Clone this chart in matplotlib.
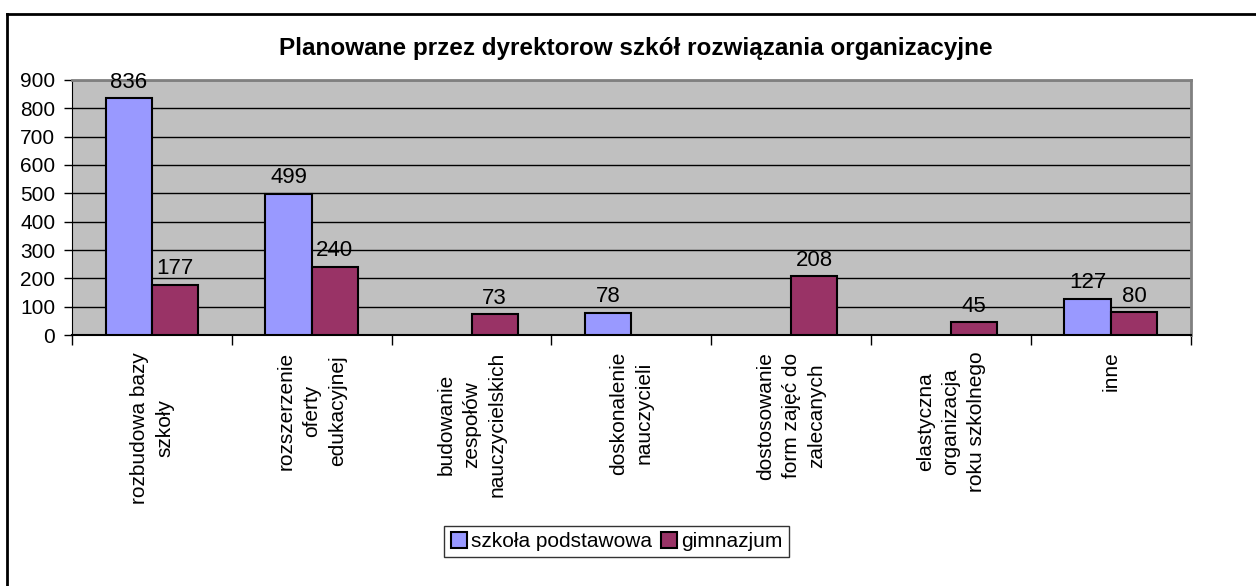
import matplotlib.pyplot as plt
import matplotlib.lines as mlines
import numpy as np

plt.rcParams['font.family'] = ['Liberation Sans', 'DejaVu Sans']

categories = ["rozbudowa bazy\nszkoły",
              "rozszerzenie\noferty\nedukacyjnej",
              "budowanie\nzespołów\nnauczycielskich",
              "doskonalenie\nnauczycieli",
              "dostosowanie\nform zajęć do\nzalecanych",
              "elastyczna\norganizacja\nroku szkolnego",
              "inne"]
podstawowa = [836, 499, np.nan, 78, np.nan, np.nan, 127]
gimnazjum = [177, 240, 73, np.nan, 208, 45, 80]
series_names = ["szkoła podstawowa", "gimnazjum"]
title = "Planowane przez dyrektorow szkół rozwiązania organizacyjne"

fig = plt.figure(figsize=(12.56, 5.86), dpi=100)
ax = fig.add_axes([0.0573, 0.4283, 0.8907, 0.4352])
ax.set_facecolor("#C0C0C0")

x = np.arange(len(categories))
w = 0.29
b1 = ax.bar(x - w / 2, np.nan_to_num(podstawowa), w, color="#9999FF",
            edgecolor="black", linewidth=1.5, label=series_names[0], zorder=3)
b2 = ax.bar(x + w / 2, np.nan_to_num(gimnazjum), w, color="#993366",
            edgecolor="black", linewidth=1.5, label=series_names[1], zorder=3)

# value labels only where there is data
for bars, vals in ((b1, podstawowa), (b2, gimnazjum)):
    for rect, v in zip(bars, vals):
        if np.isnan(v):
            rect.set_visible(False)
            continue
        ax.annotate(f"{int(v)}", (rect.get_x() + rect.get_width() / 2, v),
                    xytext=(0, 4), textcoords="offset points",
                    ha="center", va="bottom", fontsize=16)

ax.set_ylim(0, 900)
ax.set_xlim(-0.5, len(categories) - 0.5)
ax.set_yticks(np.arange(0, 901, 100))
ax.tick_params(axis="y", labelsize=15, length=6, width=1, pad=6)
ax.yaxis.grid(True, color="black", linewidth=1, zorder=0)

ax.set_xticks(x)
ax.set_xticklabels(categories, rotation=90, ha="center", va="top",
                   multialignment="center", fontsize=15, linespacing=1.45)
ax.tick_params(axis="x", which="major", length=0, pad=12)
ax.set_xticks(np.arange(-0.5, len(categories), 1), minor=True)
ax.tick_params(axis="x", which="minor", length=7, width=1)

for side in ("top", "right"):
    ax.spines[side].set_color("#808080")
    ax.spines[side].set_linewidth(2)
ax.spines["left"].set_color("black")
ax.spines["bottom"].set_color("black")
ax.spines["bottom"].set_linewidth(1.5)

fig.text(0.506, 0.918, title, ha="center", va="center",
         fontsize=17.5, fontweight="bold")

leg = fig.legend(loc="center", bbox_to_anchor=(0.491, 0.076), ncol=2,
                 fontsize=15, frameon=True, fancybox=False, edgecolor="black",
                 handlelength=0.8, handleheight=0.8, handletextpad=0.2,
                 columnspacing=0.4, borderpad=0.3, borderaxespad=0)
leg.get_frame().set_linewidth(1)

# outer chart border (top and left edges are visible)
fig.add_artist(mlines.Line2D([0.0056, 1], [0.976, 0.976], color="black",
                             linewidth=2, transform=fig.transFigure))
fig.add_artist(mlines.Line2D([0.0056, 0.0056], [0, 0.976], color="black",
                             linewidth=2, transform=fig.transFigure))

fig.savefig("out.png", dpi=100)
